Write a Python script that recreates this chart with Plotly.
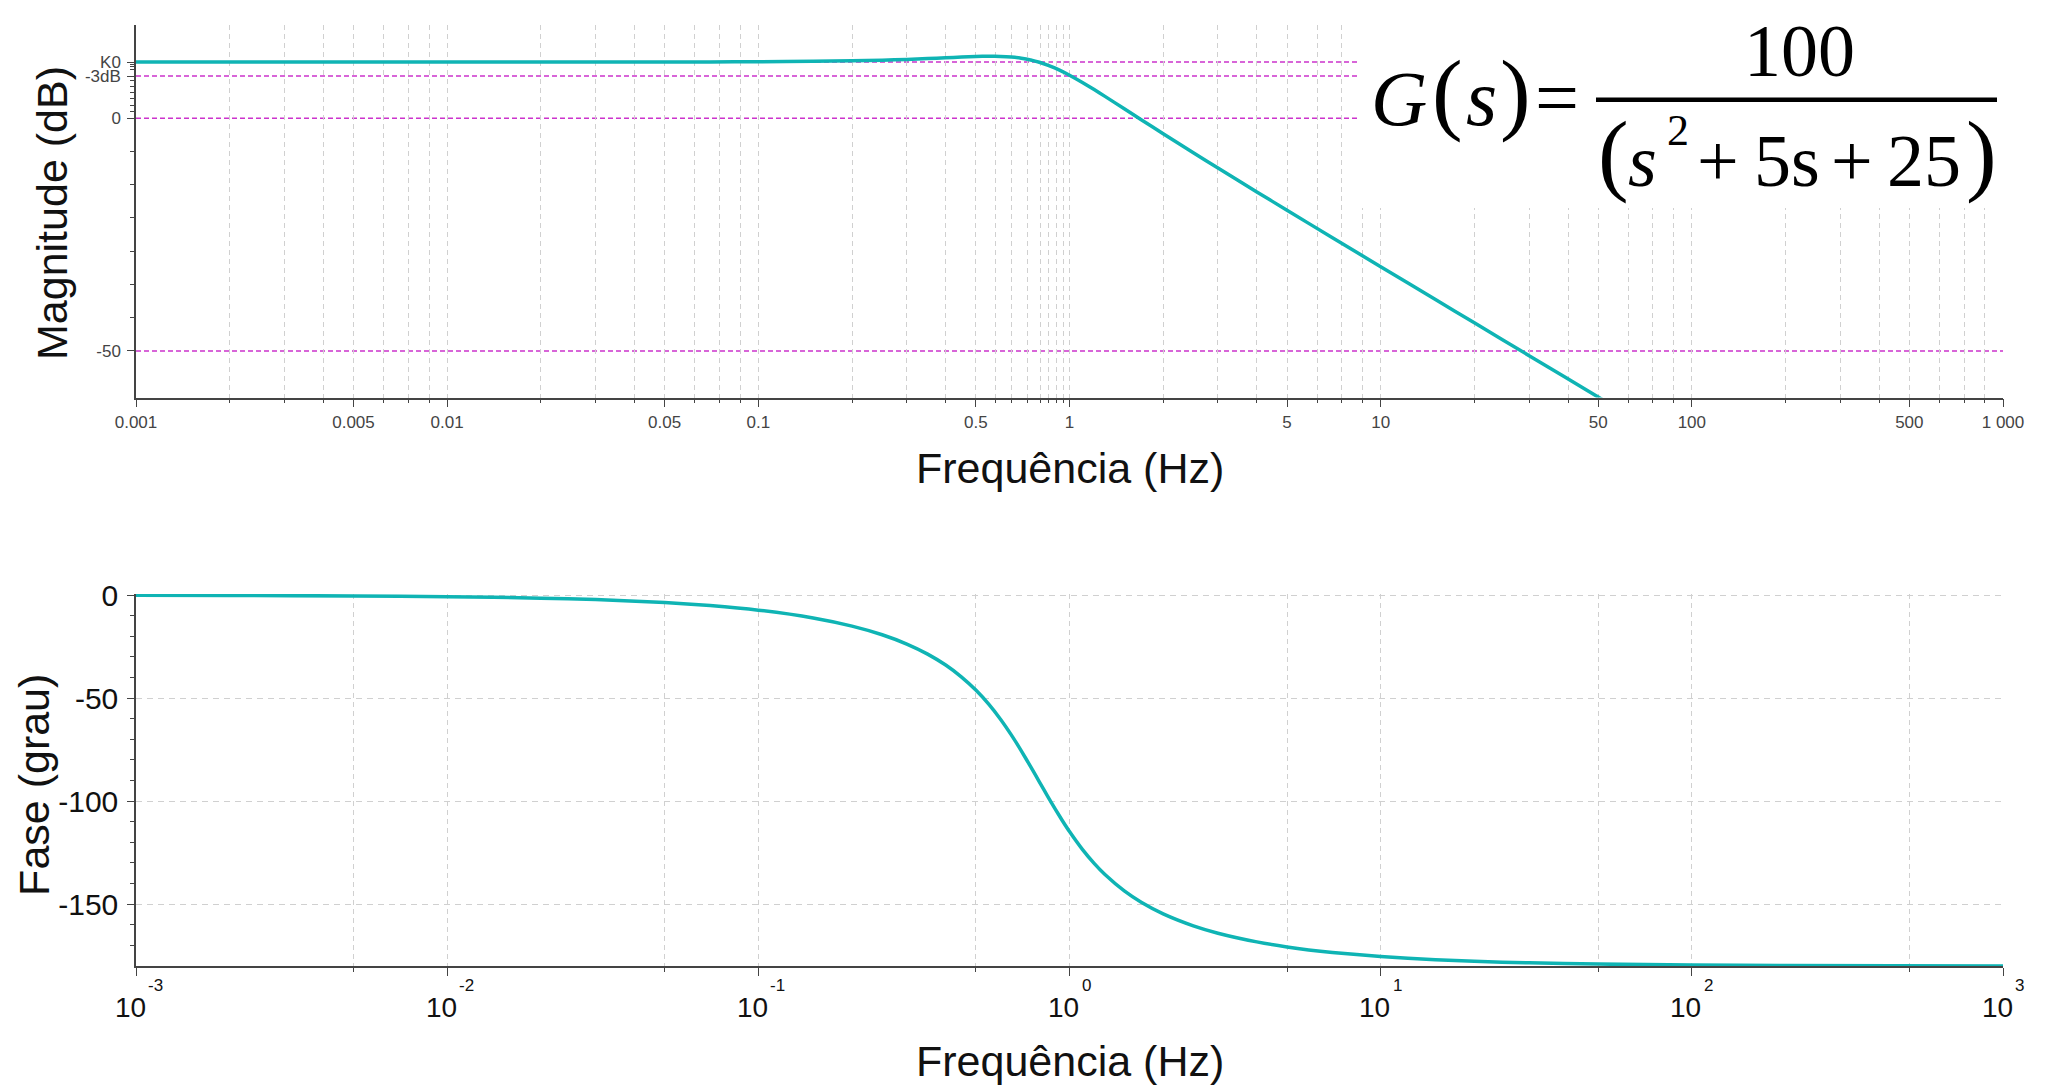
import plotly.graph_objects as go

# ---------------- data ----------------
freq_hz = [0.001, 0.002, 0.005, 0.01, 0.02, 0.03, 0.05, 0.07, 0.1, 0.15,
           0.2, 0.25, 0.3, 0.35, 0.4, 0.45, 0.5, 0.55, 0.6, 0.65,
           0.7, 0.75, 0.8, 0.85, 0.9, 0.95, 1.0, 1.1, 1.2, 1.3,
           1.5, 1.7, 2, 2.5, 3, 4, 5, 7, 10, 15,
           20, 30, 50, 100, 200, 1000]
magnitude_db = [12.04, 12.04, 12.04, 12.04, 12.05, 12.05, 12.06, 12.07, 12.11, 12.19,
                12.31, 12.45, 12.61, 12.78, 12.95, 13.11, 13.23, 13.29, 13.26, 13.13,
                12.88, 12.50, 12.00, 11.39, 10.72, 9.98, 9.22, 7.66, 6.13, 4.67,
                2.01, -0.33, -3.35, -7.43, -10.72, -15.84, -19.78, -25.68, -31.90, -38.96,
                -43.96, -51.01, -59.89, -71.9, -83.9, -111.9]
phase_deg = [-0.07, -0.14, -0.36, -0.72, -1.44, -2.16, -3.61, -5.07, -7.28, -11.06,
             -15.02, -19.22, -23.73, -28.60, -33.92, -39.74, -46.07, -52.92, -60.22, -67.83,
             -75.58, -83.24, -90.61, -97.52, -103.86, -109.60, -114.74, -123.38, -130.19, -135.61,
             -143.56, -149.06, -154.70, -160.50, -164.08, -168.30, -170.73, -173.43, -175.42, -176.95,
             -177.72, -178.48, -179.09, -179.54, -179.77, -179.95]

ref_levels_db = [12.04, 9.04, 0, -50]          # K0, -3dB, 0, -50
ref_labels = ["K0", "-3dB", "0", "-50"]

mag_tick_vals = [0.001, 0.005, 0.01, 0.05, 0.1, 0.5, 1, 5, 10, 50, 100, 500, 1000]
mag_tick_text = ["0.001", "0.005", "0.01", "0.05", "0.1", "0.5", "1", "5", "10", "50", "100", "500", "1 000"]
phase_tick_vals = [0, -50, -100, -150]
phase_tick_text = ["0", "-50", "-100", "-150"]
decade_exponents = [-3, -2, -1, 0, 1, 2, 3]

# ---------------- layout helpers (page pixel -> paper) ----------------
W, H = 2045, 1089
OFF = 8                       # page body margin of the html page
L, T = 136 - OFF, 10 - OFF
R = W - (2003 - OFF)
B = H - (966 - OFF)
PW, PH = W - L - R, H - T - B


def px(X):
    return (X - OFF - L) / PW


def py(Y):
    return (H - B - (Y - OFF)) / PH


TEAL = "#0FB4B4"
MAGENTA = "#CC33CC"
GRID = "#D0D0D0"
AXIS = "#444444"
SANS = "Liberation Sans, Arial, sans-serif"
SERIF = "Liberation Serif, Times New Roman, serif"

decades = [0.001, 0.01, 0.1, 1, 10, 100]
mag_minor = []
for d in decades:
    if d == 0.1:
        mag_minor += [0.2, 0.3, 0.4, 0.58, 0.652, 0.732, 0.804, 0.855, 0.905, 0.955]
    else:
        mag_minor += [m * d for m in (2, 3, 4, 6.25, 7.5, 8.75)]
phase_minor_x = [5 * d for d in decades]
mag_minor_y = [11.56, 11.07, 10.4, 8.03, 6.8, 5.6, 4.3, 2.75, 1.35,
               -7.14, -14.29, -21.43, -28.57, -35.71, -42.86]
phase_minor_y = [v for v in range(-10, -180, -10) if v % 50 != 0]

fig = go.Figure()
fig.add_trace(go.Scatter(x=freq_hz, y=magnitude_db, mode="lines",
                         line=dict(color=TEAL, width=3.5, shape="spline", smoothing=0.5),
                         xaxis="x", yaxis="y", showlegend=False, hoverinfo="skip"))
fig.add_trace(go.Scatter(x=freq_hz, y=phase_deg, mode="lines",
                         line=dict(color=TEAL, width=3.5, shape="spline", smoothing=0.5),
                         xaxis="x2", yaxis="y2", showlegend=False, hoverinfo="skip"))

top_dom = [py(388.5), 1.0]
bot_dom = [0.0, py(588)]

common_x = dict(type="log", range=[-3, 3], showline=True, linecolor=AXIS, linewidth=1.5,
                ticks="outside", ticklen=8, tickwidth=1, tickcolor=AXIS,
                showgrid=True, gridcolor=GRID, griddash="5px,4px", gridwidth=1,
                zeroline=False)

fig.update_layout(
    width=W, height=H,
    margin=dict(l=L, r=R, t=T, b=B),
    paper_bgcolor="white", plot_bgcolor="white",
    font=dict(family=SANS, color="#222"),
    xaxis=dict(**common_x, domain=[0, 1], anchor="y",
               tickmode="array", tickvals=mag_tick_vals, ticktext=mag_tick_text,
               tickfont=dict(size=17, color="#444"), ticklabelstandoff=0,
               minor=dict(tickvals=mag_minor, ticks="outside", ticklen=4, tickcolor=AXIS,
                          showgrid=True, gridcolor=GRID, griddash="5px,4px", gridwidth=1)),
    yaxis=dict(domain=top_dom, anchor="x", range=[-60, 20], showline=True, linecolor=AXIS,
               linewidth=1.5, ticks="outside", ticklen=7, tickcolor=AXIS,
               tickmode="array", tickvals=ref_levels_db, ticktext=ref_labels,
               tickfont=dict(size=17, color="#444"), ticklabelstandoff=3,
               showgrid=False, zeroline=False,
               minor=dict(tickvals=mag_minor_y, ticks="outside", ticklen=4, tickcolor=AXIS,
                          showgrid=False)),
    xaxis2=dict(**common_x, domain=[0, 1], anchor="y2",
                tickmode="array", tickvals=[10 ** e for e in decade_exponents],
                showticklabels=False,
                minor=dict(tickvals=phase_minor_x, ticks="outside", ticklen=4, tickcolor=AXIS,
                           showgrid=True, gridcolor=GRID, griddash="5px,4px", gridwidth=1)),
    yaxis2=dict(domain=bot_dom, anchor="x2", range=[-180, 0.6], showline=True, linecolor=AXIS,
                linewidth=1.5, ticks="outside", ticklen=7, tickcolor=AXIS,
                tickmode="array", tickvals=phase_tick_vals, ticktext=phase_tick_text,
                tickfont=dict(size=30, color="#111"), ticklabelstandoff=3,
                showgrid=True, gridcolor=GRID, griddash="6px,5px", gridwidth=1, zeroline=False,
                minor=dict(tickvals=phase_minor_y, ticks="outside", ticklen=4, tickcolor=AXIS,
                           showgrid=False)),
)

shapes = []
for lvl in ref_levels_db:
    shapes.append(dict(type="line", xref="x domain", x0=0, x1=1, yref="y", y0=lvl, y1=lvl,
                       line=dict(color=MAGENTA, width=1.5, dash="5px,3px"), layer="below"))
# white panel behind the formula
shapes.append(dict(type="rect", xref="paper", yref="paper", x0=px(1357), x1=px(W + 10),
                   y0=py(196), y1=py(0), fillcolor="white", line=dict(width=0), layer="above"))
# fraction bar
shapes.append(dict(type="line", xref="paper", yref="paper", x0=px(1596), x1=px(1997),
                   y0=py(86), y1=py(86), line=dict(color="black", width=4.5), layer="above"))
fig.update_layout(shapes=shapes)

ann = []
# axis titles
for ytitle in (460, 1063):
    ann.append(dict(text="Frequência (Hz)", x=0.5, y=py(ytitle), xref="paper", yref="paper",
                    showarrow=False, xanchor="center", yanchor="middle",
                    font=dict(size=43, color="#111", family=SANS)))
ann.append(dict(text="Magnitude (dB)", x=px(52), y=py(201), xref="paper", yref="paper",
                showarrow=False, xanchor="center", yanchor="middle", textangle=-90,
                font=dict(size=43, color="#111", family=SANS)))
ann.append(dict(text="Fase (grau)", x=px(34), y=py(782), xref="paper", yref="paper",
                showarrow=False, xanchor="center", yanchor="middle", textangle=-90,
                font=dict(size=43, color="#111", family=SANS)))

# phase x tick labels: 10 with exponent
for e in decade_exponents:
    ann.append(dict(text="10", x=e, xref="x2", y=py(1008), yref="paper", showarrow=False,
                    xanchor="center", yanchor="middle", xshift=-6,
                    font=dict(size=28, color="#111", family=SANS)))
    ann.append(dict(text=str(e), x=e, xref="x2", y=py(986), yref="paper", showarrow=False,
                    xanchor="left", yanchor="middle", xshift=10,
                    font=dict(size=17, color="#111", family=SANS)))


# formula G(s) = 100 / (s^2 + 5s + 25)
def fpiece(text, xc, yc, size):
    ann.append(dict(text=text, x=px(xc), y=py(yc), xref="paper", yref="paper",
                    showarrow=False, xanchor="center", yanchor="middle",
                    font=dict(size=size, color="black", family=SERIF)))


fpiece("<i>G</i>", 1399, 85, 78)
fpiece("(", 1447, 78, 92)
fpiece("<i>s</i>", 1481, 84, 80)
fpiece(")", 1515, 78, 92)
fpiece("=", 1557, 84, 78)
fpiece("100", 1799, 36, 74)
fpiece("(", 1613, 140, 92)
fpiece("<i>s</i>", 1642, 148.1, 74)
fpiece("2", 1678, 117, 44)
fpiece("+", 1718, 148.1, 74)
fpiece("5s", 1787, 148.1, 74)
fpiece("+", 1852, 148.1, 74)
fpiece("25", 1924, 148.1, 74)
fpiece(")", 1981, 140, 92)

fig.update_layout(annotations=ann)
fig.write_html("out.html")
